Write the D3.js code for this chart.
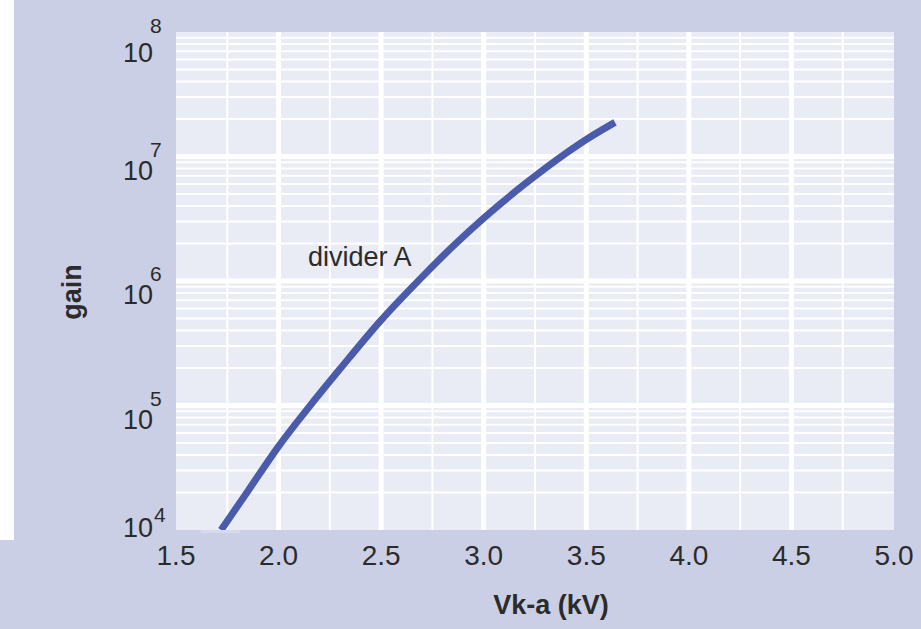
<!DOCTYPE html>
<html>
<head>
<meta charset="utf-8">
<script src="https://cdn.jsdelivr.net/npm/d3@7"></script>
<style>
  html, body { margin: 0; padding: 0; background: #ffffff; }
  svg { display: block; font-family: 'Liberation Sans', Arial, Helvetica, sans-serif; }
</style>
</head>
<body>
<svg id="chart" width="921" height="629"></svg>
<script>
// ---- data ----
const voltageKV = [1.72, 1.85, 2.0, 2.15, 2.3, 2.5, 2.7, 2.85, 3.0, 3.2, 3.4, 3.5, 3.64];
const gainA     = [1.0e4, 2.05e4, 4.7e4, 9.8e4, 1.97e5, 4.85e5, 1.08e6, 1.9e6, 3.2e6, 6.0e6, 1.06e7, 1.37e7, 1.88e7];
const xTickValues = [1.5, 2.0, 2.5, 3.0, 3.5, 4.0, 4.5, 5.0];
const xTickLabels = ["1.5", "2.0", "2.5", "3.0", "3.5", "4.0", "4.5", "5.0"];
const yDecadeExponents = [4, 5, 6, 7, 8];
const seriesName = "divider A";
const xTitle = "Vk-a (kV)";
const yTitle = "gain";

// ---- layout ----
const W = 921, H = 629;
const plot = { left: 176, right: 894, top: 32, bottom: 530 };
const outerColor = "#cbcfe5";
const plotColor = "#e9ebf5";
const lineColor = "#4a5bab";
const textColor = "#2b2b2b";

const svg = d3.select("#chart");

// page background pieces: lavender with white left strip
svg.append("rect").attr("x", 0).attr("y", 0).attr("width", W).attr("height", H).attr("fill", outerColor);
svg.append("rect").attr("x", 0).attr("y", 0).attr("width", 14).attr("height", 540).attr("fill", "#ffffff");

const x = d3.scaleLinear().domain([1.5, 5.0]).range([plot.left, plot.right]);
const y = d3.scaleLog().domain([1e4, 1e8]).range([plot.bottom, plot.top]);

// plot area
svg.append("rect")
  .attr("x", plot.left).attr("y", plot.top)
  .attr("width", plot.right - plot.left).attr("height", plot.bottom - plot.top)
  .attr("fill", plotColor);

const defs = svg.append("defs");
defs.append("clipPath").attr("id", "clip")
  .append("rect")
  .attr("x", plot.left).attr("y", plot.top)
  .attr("width", plot.right - plot.left).attr("height", plot.bottom - plot.top);

const grid = svg.append("g").attr("clip-path", "url(#clip)");

// horizontal minor grid (2..9 x decade)
const minorY = [];
for (let e = 4; e < 8; e++) for (let m = 2; m <= 9; m++) minorY.push(m * Math.pow(10, e));
grid.selectAll("line.hmin").data(minorY).enter().append("line")
  .attr("x1", plot.left).attr("x2", plot.right)
  .attr("y1", d => y(d)).attr("y2", d => y(d))
  .attr("stroke", "#ffffff").attr("stroke-width", 2);

// vertical minor grid (quarter steps)
const minorX = d3.range(1.75, 5.0, 0.5);
grid.selectAll("line.vmin").data(minorX).enter().append("line")
  .attr("x1", d => x(d)).attr("x2", d => x(d))
  .attr("y1", plot.top).attr("y2", plot.bottom)
  .attr("stroke", "#ffffff").attr("stroke-width", 2);

// major horizontal (decades)
grid.selectAll("line.hmaj").data(yDecadeExponents.slice(1, -1).map(e => Math.pow(10, e))).enter().append("line")
  .attr("x1", plot.left).attr("x2", plot.right)
  .attr("y1", d => y(d)).attr("y2", d => y(d))
  .attr("stroke", "#ffffff").attr("stroke-width", 5);

// major vertical
grid.selectAll("line.vmaj").data(xTickValues.slice(1, -1)).enter().append("line")
  .attr("x1", d => x(d)).attr("x2", d => x(d))
  .attr("y1", plot.top).attr("y2", plot.bottom)
  .attr("stroke", "#ffffff").attr("stroke-width", 5);

// curve
const pts = voltageKV.map((v, i) => [v, gainA[i]]);
const line = d3.line().x(d => x(d[0])).y(d => y(d[1])).curve(d3.curveMonotoneX);
svg.append("g").attr("clip-path", "url(#clip)")
  .append("path").datum(pts)
  .attr("d", line)
  .attr("fill", "none")
  .attr("stroke", lineColor)
  .attr("stroke-width", 7)
  .attr("stroke-linecap", "butt");

// small light notch below the plot where the curve leaves it
svg.append("rect")
  .attr("x", x(1.62)).attr("y", plot.bottom)
  .attr("width", x(1.81) - x(1.62)).attr("height", 3)
  .attr("fill", "#d7daee");

// series label
svg.append("text")
  .attr("x", 308).attr("y", 266)
  .attr("font-size", 27).attr("fill", textColor)
  .text(seriesName);

// x tick labels
svg.append("g").selectAll("text").data(xTickValues).enter().append("text")
  .attr("x", d => x(d)).attr("y", 565)
  .attr("text-anchor", "middle")
  .attr("font-size", 28).attr("fill", textColor)
  .text((d, i) => xTickLabels[i]);

// y tick labels: 10^n
const yl = svg.append("g");
yDecadeExponents.forEach(e => {
  const ty = y(Math.pow(10, e));
  let baseOff = 23, expOff = 0, expX = 150;
  if (e === yDecadeExponents[yDecadeExponents.length - 1]) { baseOff = 30; expOff = 1; }
  if (e === yDecadeExponents[0]) { baseOff = 7; expOff = -8; expX = 154; }
  yl.append("text")
    .attr("x", 123).attr("y", ty + baseOff)
    .attr("font-size", 27).attr("fill", textColor)
    .text("10");
  yl.append("text")
    .attr("x", expX).attr("y", ty + expOff)
    .attr("font-size", 21).attr("fill", textColor)
    .text(String(e));
});

// axis titles
svg.append("text")
  .attr("x", 551).attr("y", 614)
  .attr("text-anchor", "middle")
  .attr("font-size", 27).attr("font-weight", "bold").attr("fill", textColor)
  .text(xTitle);

svg.append("text")
  .attr("transform", "translate(81,292) rotate(-90)")
  .attr("text-anchor", "middle")
  .attr("font-size", 27).attr("font-weight", "bold").attr("fill", textColor)
  .text(yTitle);
</script>
</body>
</html>
